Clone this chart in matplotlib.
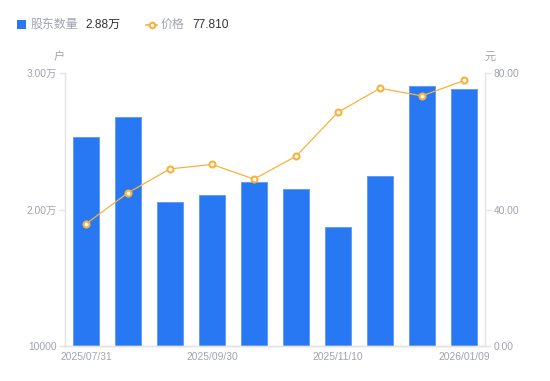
import matplotlib
matplotlib.use("Agg")
import matplotlib.pyplot as plt
from matplotlib.patches import Rectangle
from matplotlib.lines import Line2D
import numpy as np

plt.rcParams['font.family'] = ['Liberation Sans', 'Noto Sans CJK SC', 'DejaVu Sans']

dates = ["2025/07/31", "2025/08/15", "2025/08/29", "2025/09/30", "2025/10/20",
         "2025/10/31", "2025/11/10", "2025/11/28", "2025/12/31", "2026/01/09"]
holders = [25300, 26780, 20550, 21060, 22010, 21500, 18720, 22450, 29050, 28800]
prices = [35.8, 44.9, 51.9, 53.2, 48.9, 55.6, 68.5, 75.5, 73.3, 77.81]
shown_ticks = [0, 3, 6, 9]
left_ticks = [10000, 20000, 30000]
left_labels = ["10000", "2.00万", "3.00万"]
right_ticks = [0, 40, 80]
right_labels = ["0.00", "40.00", "80.00"]

BLUE = "#2878f4"
ORANGE = "#f8b23c"
GRAY = "#a0a3b1"
AXC = "#e3e3e8"

fig = plt.figure(figsize=(5.5, 3.81), dpi=100)
ax = fig.add_axes([65/550, 35/381, 420/550, 273/381])
ax2 = ax.twinx()

x = np.arange(len(dates))
ax.bar(x, holders, width=0.6, color=BLUE, edgecolor="#5a98f7", linewidth=0.6, zorder=2)
ax.set_xlim(-0.5, len(dates) - 0.5)
ax.set_ylim(10000, 30000)
ax.set_yticks(left_ticks)
ax.set_yticklabels(left_labels)
ax.set_xticks(shown_ticks)
ax.set_xticklabels([dates[i] for i in shown_ticks])

ax2.plot(x, prices, color=ORANGE, linewidth=0.9, marker="o", markersize=4.3,
         markerfacecolor="white", markeredgecolor=ORANGE, markeredgewidth=1.5, zorder=3)
ax2.set_ylim(0, 80)
ax2.set_yticks(right_ticks)
ax2.set_yticklabels(right_labels)

for a in (ax, ax2):
    a.spines["top"].set_visible(False)
    for s in ("left", "right", "bottom"):
        a.spines[s].set_color(AXC)
        a.spines[s].set_linewidth(1.0)
    a.tick_params(axis="y", colors=AXC, labelcolor=GRAY, labelsize=7.4, length=4, width=1, pad=2)
ax.spines["right"].set_visible(False)
ax2.spines["left"].set_visible(False)
ax.tick_params(axis="x", length=0, labelcolor=GRAY, labelsize=7.4, pad=4)

fig.text(59/550, 1 - 57/381, "户", fontsize=8, color=GRAY, ha="center", va="center")
fig.text(490/550, 1 - 57/381, "元", fontsize=8, color=GRAY, ha="center", va="center")

# legend
ly = 1 - 24.5/381
fig.patches.append(Rectangle((17/550, 1 - 29/381), 9/550, 9/381, transform=fig.transFigure,
                             facecolor=BLUE, edgecolor="none"))
fig.text(31/550, ly, "股东数量", fontsize=8.6, color=GRAY, va="center", ha="left")
fig.text(85/550, ly, f"{holders[-1]/10000:.2f}万", fontsize=8.6, color="#333333",
         va="center", ha="left")
fig.add_artist(Line2D([146/550, 157/550], [ly] * 2, transform=fig.transFigure,
                      color=ORANGE, linewidth=1.2, zorder=5))
fig.add_artist(Line2D([151.5/550], [ly], transform=fig.transFigure, color=ORANGE,
                      marker="o", markersize=4.0, markerfacecolor="white",
                      markeredgecolor=ORANGE, markeredgewidth=1.5, linestyle="none", zorder=6))
fig.text(161/550, ly, "价格", fontsize=8.6, color=GRAY, va="center", ha="left")
fig.text(192/550, ly, f"{prices[-1]:.3f}", fontsize=8.6, color="#333333",
         va="center", ha="left")

fig.savefig("out.png", dpi=100)
